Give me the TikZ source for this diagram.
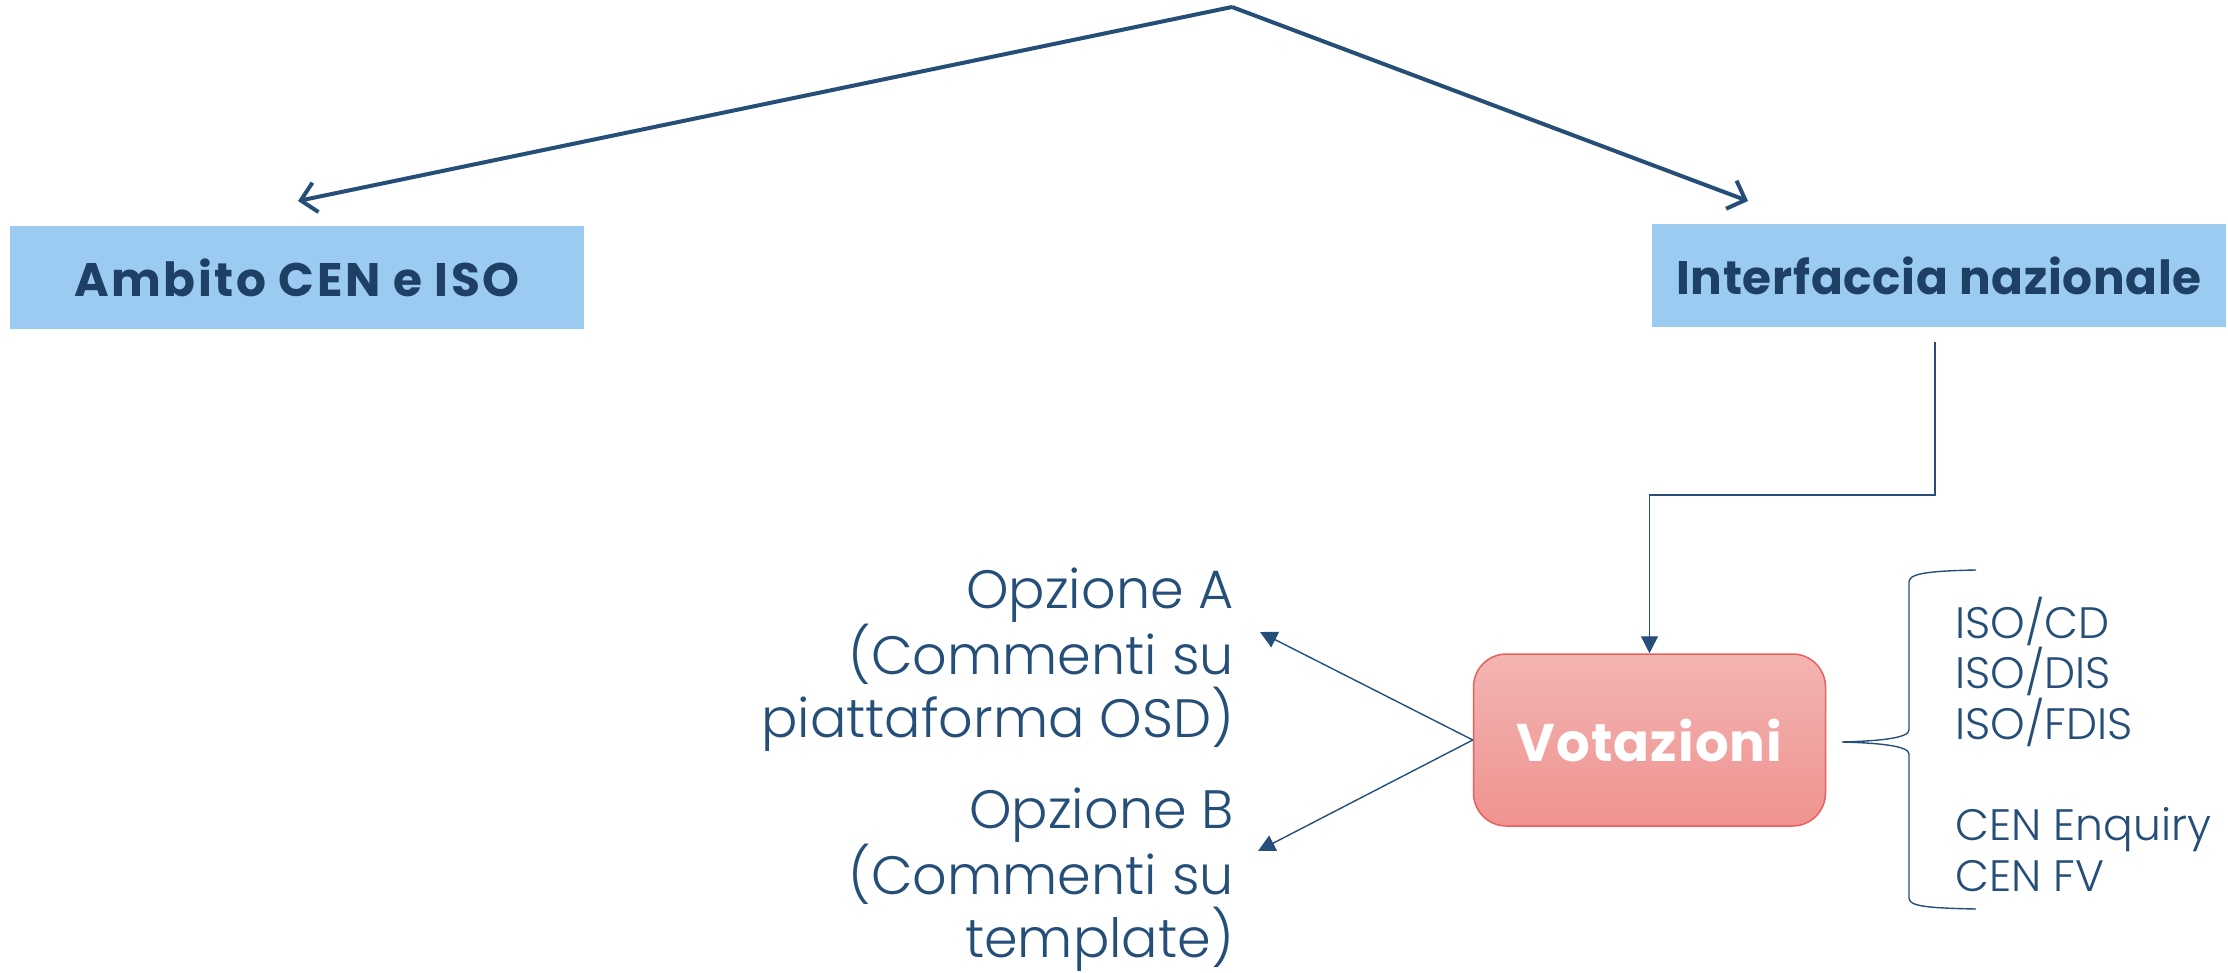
\documentclass[tikz,border=0pt]{standalone}
\usepackage{fontspec}
\setmainfont{Poppins}
\IfFontExistsTF{Poppins Light}{\newfontfamily\lightfont{Poppins Light}}{\newfontfamily\lightfont{Poppins}}
\usetikzlibrary{arrows.meta}
\definecolor{dblue}{RGB}{37,78,121}
\definecolor{boxtext}{RGB}{31,64,101}
\definecolor{boxfill}{RGB}{155,203,240}
\definecolor{vtop}{RGB}{243,180,178}
\definecolor{vbot}{RGB}{239,147,144}
\definecolor{vborder}{RGB}{232,96,92}
\tikzset{
  scopebox/.style={rectangle, fill=boxfill, inner sep=0pt, minimum width=574pt, minimum height=103pt,
    text=boxtext, font=\fontsize{47}{55}\selectfont\bfseries},
  votbox/.style={rectangle, rounded corners=33pt, draw=vborder, line width=1.5pt,
    top color=vtop, bottom color=vbot, minimum width=352pt, minimum height=172pt, inner sep=0pt,
    text=white, font=\fontsize{53}{60}\selectfont\bfseries\addfontfeatures{LetterSpace=2}},
  optlabel/.style={align=right, inner sep=0pt, text=dblue, font=\lightfont\fontsize{54}{63.5}\selectfont},
  listlabel/.style={align=left, inner sep=0pt, text=dblue, font=\lightfont\fontsize{44}{50.6}\selectfont},
  bigarrow/.style={draw=dblue, line width=4pt, -{Straight Barb[length=15pt,width=30pt,line width=4pt]}},
  thinarrow/.style={draw=dblue, line width=1.4pt, -{Triangle[length=17pt,width=17pt]}},
  thinline/.style={draw=dblue, line width=1.4pt},
}
\begin{document}
\begin{tikzpicture}[x=1pt,y=-1pt]
\useasboundingbox (0,0) rectangle (2228,973);
\node[scopebox, font=\fontsize{47}{55}\selectfont\bfseries\addfontfeatures{LetterSpace=5.5}] (ambito) at (297,277.5) {Ambito CEN e ISO};
\node[scopebox, font=\fontsize{47}{55}\selectfont\bfseries\addfontfeatures{LetterSpace=1.5}] (ifc) at (1939,275.5) {Interfaccia nazionale};
\node[votbox] (vot) at (1649.5,740) {Votazioni};
\node[optlabel, anchor=east] (optA) at (1234,660) {Opzione A\\(Commenti su\\piattaforma OSD)};
\node[optlabel, anchor=east] (optB) at (1234,880) {Opzione B\\(Commenti su\\template)};
\node[listlabel, anchor=west] (list) at (1955,744) {ISO/CD\\ISO/DIS\\ISO/FDIS\\[50.6pt]CEN Enquiry\\CEN FV};
\coordinate (apex) at (1232,7);
\coordinate (tipL) at (298,201);
\coordinate (tipR) at (1748,201);
\coordinate (ifcout) at (1935,342);
\coordinate (elbow) at (1935,495);
\coordinate (tipA) at (1260,632);
\coordinate (tipB) at (1258,851);
\coordinate (bracetip) at (1842,742);
\draw[bigarrow] (apex) -- (tipL);
\draw[bigarrow] (apex) -- (tipR);
\draw[thinarrow] (ifcout) -- (elbow) -| (vot.north);
\draw[thinarrow] (vot.west) -- (tipA);
\draw[thinarrow] (vot.west) -- (tipB);
\draw[thinline] (1976,570) .. controls (1925,571) and (1909,574) .. (1909,582) -- (1909,730)
  .. controls (1909,738) and (1880,741) .. (bracetip)
  .. controls (1880,743) and (1909,746) .. (1909,754) -- (1909,898)
  .. controls (1909,906) and (1925,908) .. (1976,909);
\end{tikzpicture}
\end{document}
